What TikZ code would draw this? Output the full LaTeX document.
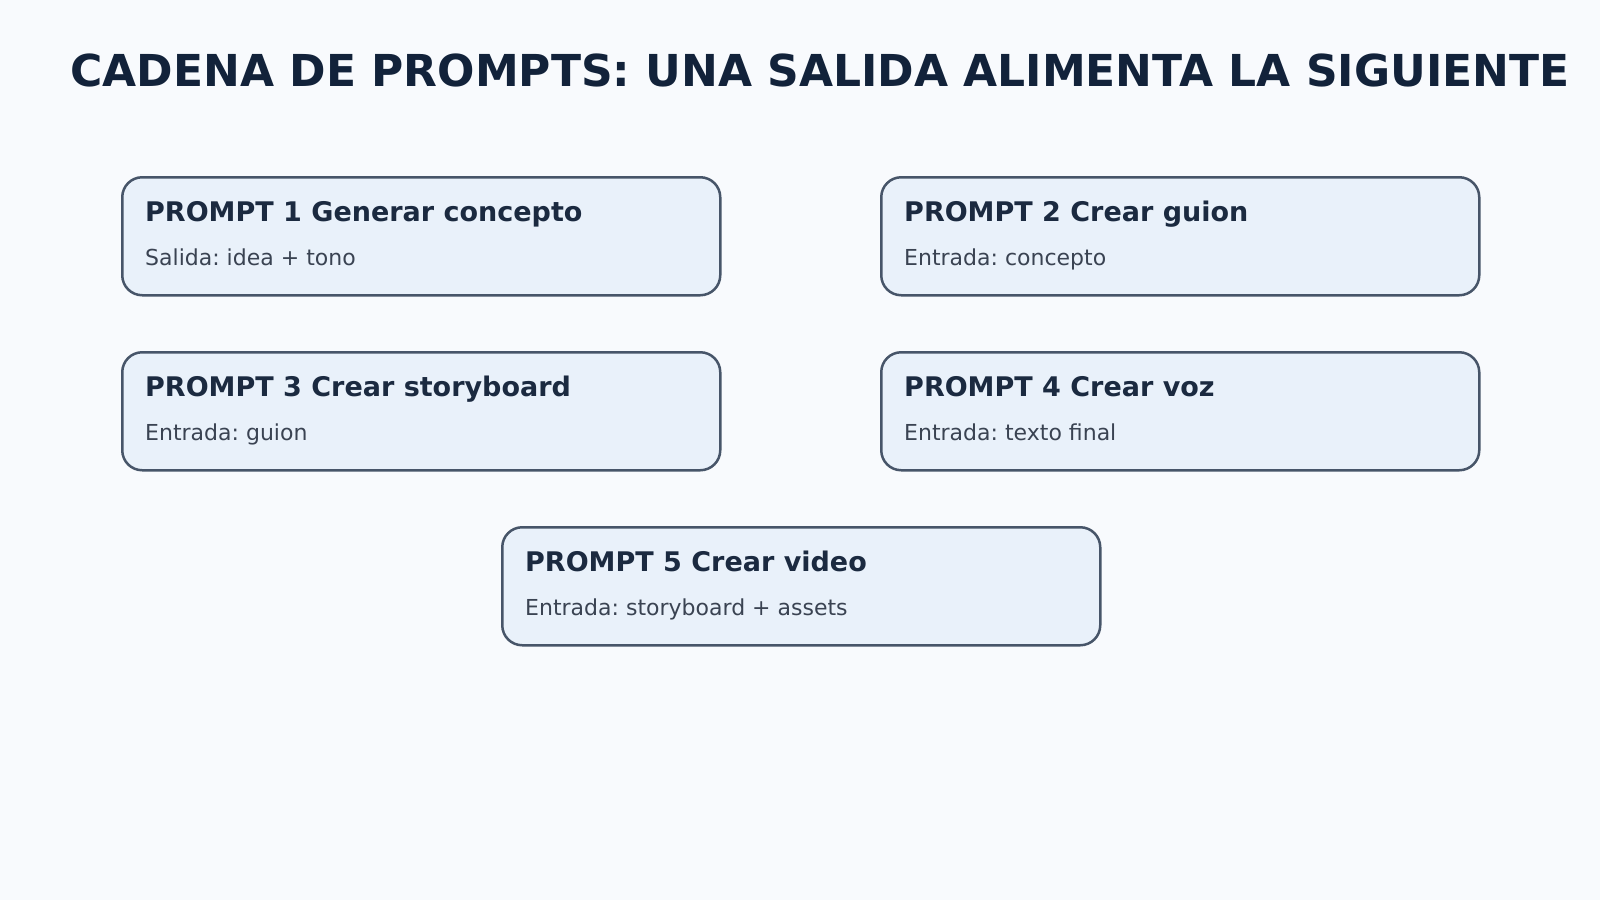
\documentclass[tikz,border=0pt]{standalone}
\usepackage{fontspec}
\setmainfont{DejaVu Sans}
\frenchspacing
\definecolor{bgc}{HTML}{F8FAFD}
\definecolor{boxfill}{HTML}{E9F1FA}
\definecolor{boxline}{HTML}{475569}
\definecolor{titlec}{HTML}{12223A}
\definecolor{headc}{HTML}{1B2A40}
\definecolor{subc}{HTML}{3A4352}
\tikzset{
  card/.style={draw=boxline, line width=2.5pt, fill=boxfill, rounded corners=20pt,
    minimum width=598pt, minimum height=118pt, inner sep=0pt, anchor=north west},
  head/.style={anchor=base west, inner sep=0pt, text=headc,
    font=\fontsize{27pt}{32pt}\selectfont\bfseries},
  sub/.style={anchor=base west, inner sep=0pt, text=subc,
    font=\fontsize{22pt}{26pt}\selectfont},
}
\begin{document}
\begin{tikzpicture}[x=1pt,y=-1pt]
\fill[bgc] (0,0) rectangle (1600,900);
\useasboundingbox (0,0) rectangle (1600,900);
\node[anchor=base, inner sep=0pt, text=titlec, font=\fontsize{44pt}{52pt}\selectfont\bfseries] (title) at (820,86) {CADENA DE PROMPTS: UNA SALIDA ALIMENTA LA SIGUIENTE};

\node[card] (b1) at (121,176) {};
\node[card] (b2) at (880,176) {};
\node[card] (b3) at (121,351) {};
\node[card] (b4) at (880,351) {};
\node[card] (b5) at (501,526) {};

\node[head] (h1) at ([xshift=24pt,yshift=-45pt]b1.north west) {PROMPT 1 Generar concepto};
\node[sub] (s1) at ([xshift=24pt,yshift=-89pt]b1.north west) {Salida: idea + tono};
\node[head] (h2) at ([xshift=24pt,yshift=-45pt]b2.north west) {PROMPT 2 Crear guion};
\node[sub] (s2) at ([xshift=24pt,yshift=-89pt]b2.north west) {Entrada: concepto};
\node[head] (h3) at ([xshift=24pt,yshift=-45pt]b3.north west) {PROMPT 3 Crear storyboard};
\node[sub] (s3) at ([xshift=24pt,yshift=-89pt]b3.north west) {Entrada: guion};
\node[head] (h4) at ([xshift=24pt,yshift=-45pt]b4.north west) {PROMPT 4 Crear voz};
\node[sub] (s4) at ([xshift=24pt,yshift=-89pt]b4.north west) {Entrada: texto final};
\node[head] (h5) at ([xshift=24pt,yshift=-45pt]b5.north west) {PROMPT 5 Crear video};
\node[sub] (s5) at ([xshift=24pt,yshift=-89pt]b5.north west) {Entrada: storyboard + assets};
\end{tikzpicture}
\end{document}
